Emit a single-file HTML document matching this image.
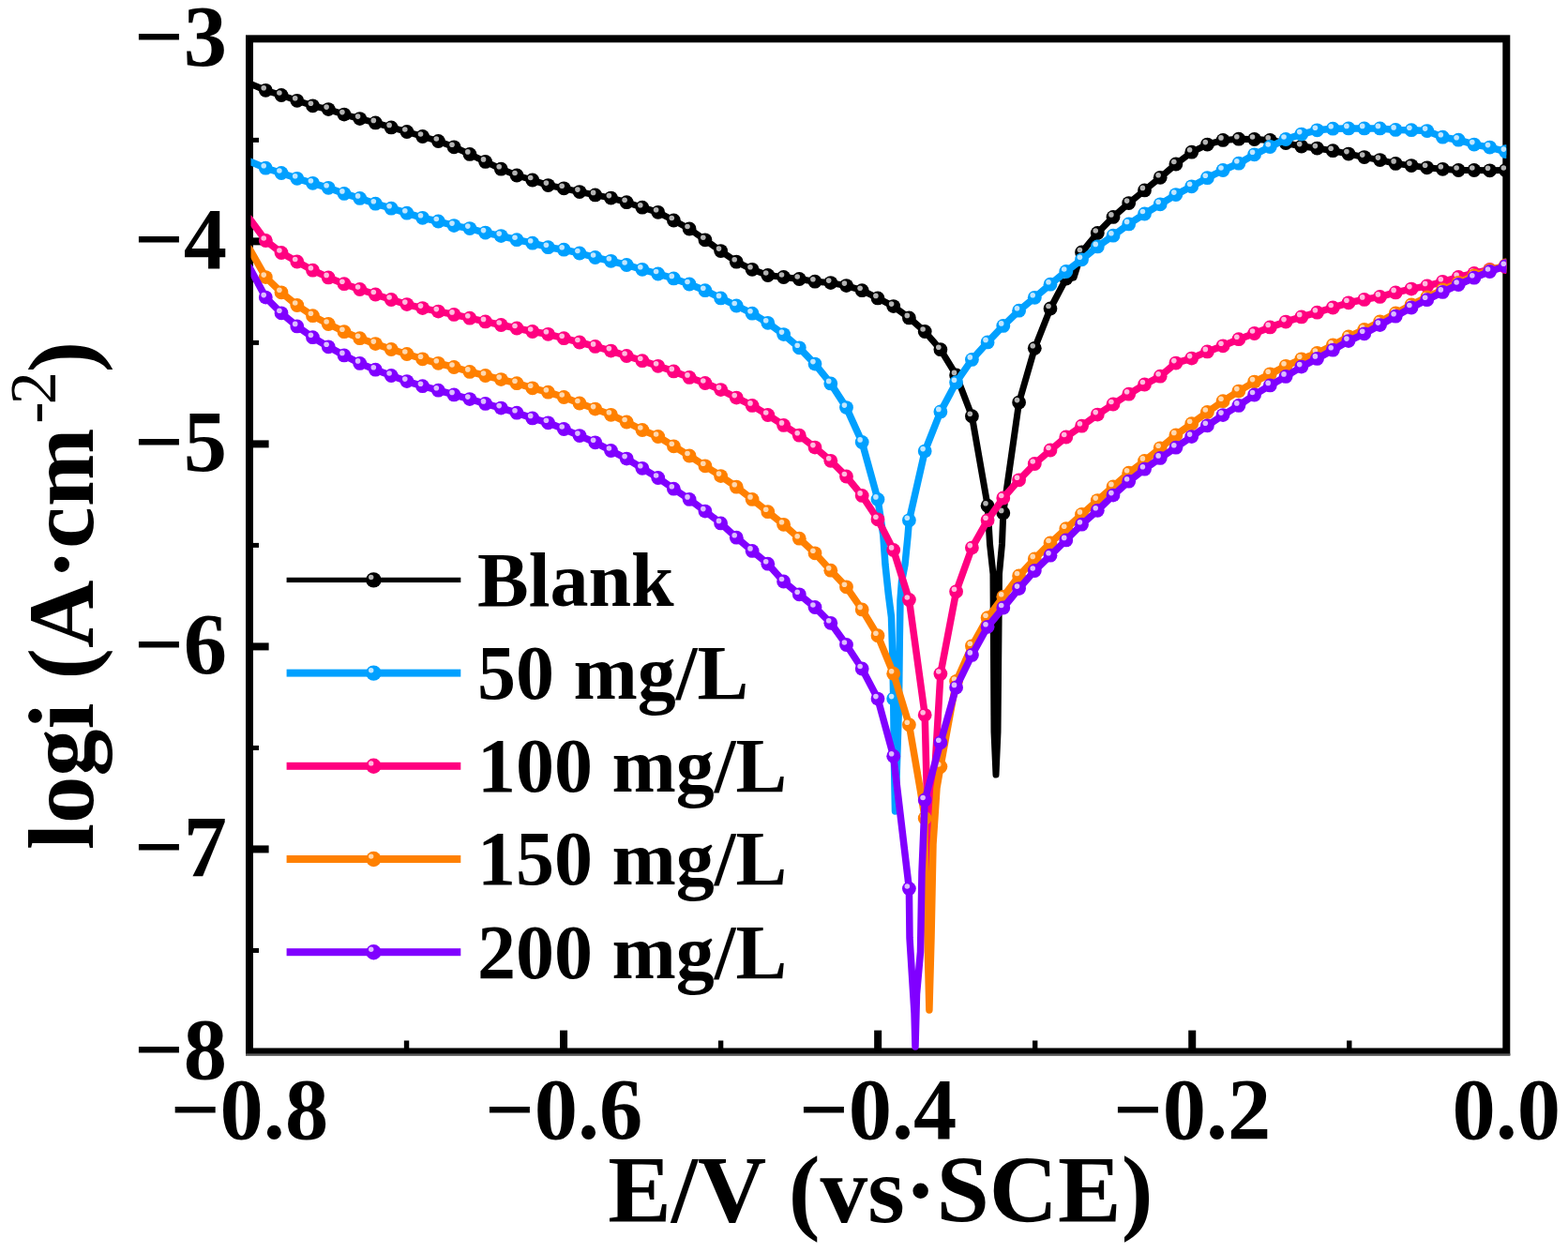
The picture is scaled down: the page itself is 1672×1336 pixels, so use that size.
<!DOCTYPE html><html><head><meta charset="utf-8"><title>Tafel plot</title><style>html,body{margin:0;padding:0;background:#fff;}svg{display:block;}text{font-family:"Liberation Serif","Times New Roman",serif;font-weight:bold;fill:#000;}</style></head><body>
<svg width="1672" height="1336" viewBox="0 0 1672 1336">
<rect x="0" y="0" width="1672" height="1336" fill="#fff"/>
<defs><clipPath id="pc"><rect x="267.5" y="41.35" width="1338.8" height="1080.1000000000001"/></clipPath></defs>
<rect x="266.0" y="41.35" width="1340.30" height="1080.10" fill="none" stroke="#000" stroke-width="8"/>
<rect x="262" y="1123.4" width="1348.3" height="2.2" fill="#5a5a5a"/>
<rect x="266.0" y="146.86" width="10.0" height="5" fill="#000"/>
<rect x="266.0" y="253.37" width="20.6" height="8" fill="#000"/>
<rect x="266.0" y="362.88" width="10.0" height="5" fill="#000"/>
<rect x="266.0" y="469.39" width="20.6" height="8" fill="#000"/>
<rect x="266.0" y="578.90" width="10.0" height="5" fill="#000"/>
<rect x="266.0" y="685.41" width="20.6" height="8" fill="#000"/>
<rect x="266.0" y="794.92" width="10.0" height="5" fill="#000"/>
<rect x="266.0" y="901.43" width="20.6" height="8" fill="#000"/>
<rect x="266.0" y="1010.94" width="10.0" height="5" fill="#000"/>
<rect x="430.84" y="1109.5" width="5.4" height="12.0" fill="#000"/>
<rect x="597.07" y="1098.6" width="8" height="22.9" fill="#000"/>
<rect x="765.91" y="1109.5" width="5.4" height="12.0" fill="#000"/>
<rect x="932.15" y="1098.6" width="8" height="22.9" fill="#000"/>
<rect x="1100.99" y="1109.5" width="5.4" height="12.0" fill="#000"/>
<rect x="1267.23" y="1098.6" width="8" height="22.9" fill="#000"/>
<rect x="1436.06" y="1109.5" width="5.4" height="12.0" fill="#000"/>
<text x="242" y="69.7" font-size="92.5" text-anchor="end">−3</text>
<text x="242" y="285.7" font-size="92.5" text-anchor="end">−4</text>
<text x="242" y="501.7" font-size="92.5" text-anchor="end">−5</text>
<text x="242" y="717.7" font-size="92.5" text-anchor="end">−6</text>
<text x="242" y="933.7" font-size="92.5" text-anchor="end">−7</text>
<text x="242" y="1149.8" font-size="92.5" text-anchor="end">−8</text>
<text x="266.0" y="1214.4" font-size="92.5" text-anchor="middle">−0.8</text>
<text x="601.1" y="1214.4" font-size="92.5" text-anchor="middle">−0.6</text>
<text x="936.1" y="1214.4" font-size="92.5" text-anchor="middle">−0.4</text>
<text x="1271.2" y="1214.4" font-size="92.5" text-anchor="middle">−0.2</text>
<text x="1606.3" y="1214.4" font-size="92.5" text-anchor="middle">0.0</text>
<text x="648.2" y="1302.9" font-size="101.4">E/V (vs·SCE)</text>
<text transform="translate(98.5,906) rotate(-90)" font-size="100.5">logi (A·cm<tspan font-weight="normal" font-size="70" dy="-40" dx="5">-</tspan><tspan font-weight="normal" font-size="70" dx="-3">2</tspan><tspan dy="40" dx="-1">)</tspan></text>
<g clip-path="url(#pc)">
<path d="M266.0,89.0 L283.3,96.3 L300.0,101.5 L316.8,107.3 L333.5,112.8 L350.2,116.6 L367.0,122.1 L383.7,126.6 L400.4,130.9 L417.2,135.9 L433.9,140.5 L450.6,145.5 L467.4,150.5 L484.1,156.8 L500.9,164.4 L517.6,172.4 L534.3,180.2 L551.1,187.0 L567.8,192.0 L584.5,197.6 L601.3,200.8 L618.0,204.6 L634.7,207.9 L651.5,211.1 L668.2,215.7 L684.9,221.2 L701.7,226.3 L718.4,235.0 L735.1,244.0 L751.9,255.8 L768.6,267.6 L785.3,279.2 L802.1,287.3 L818.8,293.5 L835.6,295.5 L852.3,297.5 L869.0,300.2 L885.8,301.6 L902.5,304.6 L919.2,309.7 L936.0,317.9 L952.7,326.6 L969.4,338.9 L986.2,353.5 L1002.9,372.7 L1019.6,399.9 L1036.4,443.7 L1053.1,539.2 L1055.5,580.0 L1059.0,612.0 L1060.0,780.0 L1062.0,826.0 L1064.0,780.0 L1065.5,612.0 L1068.5,580.0 L1069.8,546.9 L1086.6,429.1 L1103.3,371.3 L1120.0,329.0 L1136.8,297.0 L1145.0,296.0 L1153.5,269.0 L1170.3,248.5 L1187.0,231.4 L1203.7,216.6 L1220.5,202.9 L1237.2,189.3 L1253.9,175.0 L1270.7,162.2 L1287.4,154.1 L1304.1,149.4 L1320.9,148.2 L1337.6,148.5 L1354.3,149.4 L1371.1,152.5 L1387.8,156.1 L1404.5,158.1 L1421.3,160.7 L1438.0,164.1 L1454.8,167.6 L1471.5,170.6 L1488.2,174.4 L1505.0,176.6 L1521.7,178.8 L1538.4,180.3 L1555.2,181.5 L1571.9,181.5 L1588.6,181.8 L1605.4,181.5" fill="none" stroke="#000000" stroke-width="7.0" stroke-linejoin="round" stroke-linecap="round"/>
<g fill="#000000"><circle cx="283.3" cy="96.3" r="7.4"/><circle cx="300.0" cy="101.5" r="7.4"/><circle cx="316.8" cy="107.3" r="7.4"/><circle cx="333.5" cy="112.8" r="7.4"/><circle cx="350.2" cy="116.6" r="7.4"/><circle cx="367.0" cy="122.1" r="7.4"/><circle cx="383.7" cy="126.6" r="7.4"/><circle cx="400.4" cy="130.9" r="7.4"/><circle cx="417.2" cy="135.9" r="7.4"/><circle cx="433.9" cy="140.5" r="7.4"/><circle cx="450.6" cy="145.5" r="7.4"/><circle cx="467.4" cy="150.5" r="7.4"/><circle cx="484.1" cy="156.8" r="7.4"/><circle cx="500.9" cy="164.4" r="7.4"/><circle cx="517.6" cy="172.4" r="7.4"/><circle cx="534.3" cy="180.2" r="7.4"/><circle cx="551.1" cy="187.0" r="7.4"/><circle cx="567.8" cy="192.0" r="7.4"/><circle cx="584.5" cy="197.6" r="7.4"/><circle cx="601.3" cy="200.8" r="7.4"/><circle cx="618.0" cy="204.6" r="7.4"/><circle cx="634.7" cy="207.9" r="7.4"/><circle cx="651.5" cy="211.1" r="7.4"/><circle cx="668.2" cy="215.7" r="7.4"/><circle cx="684.9" cy="221.2" r="7.4"/><circle cx="701.7" cy="226.3" r="7.4"/><circle cx="718.4" cy="235.0" r="7.4"/><circle cx="735.1" cy="244.0" r="7.4"/><circle cx="751.9" cy="255.8" r="7.4"/><circle cx="768.6" cy="267.6" r="7.4"/><circle cx="785.3" cy="279.2" r="7.4"/><circle cx="802.1" cy="287.3" r="7.4"/><circle cx="818.8" cy="293.5" r="7.4"/><circle cx="835.6" cy="295.5" r="7.4"/><circle cx="852.3" cy="297.5" r="7.4"/><circle cx="869.0" cy="300.2" r="7.4"/><circle cx="885.8" cy="301.6" r="7.4"/><circle cx="902.5" cy="304.6" r="7.4"/><circle cx="919.2" cy="309.7" r="7.4"/><circle cx="936.0" cy="317.9" r="7.4"/><circle cx="952.7" cy="326.6" r="7.4"/><circle cx="969.4" cy="338.9" r="7.4"/><circle cx="986.2" cy="353.5" r="7.4"/><circle cx="1002.9" cy="372.7" r="7.4"/><circle cx="1019.6" cy="399.9" r="7.4"/><circle cx="1036.4" cy="443.7" r="7.4"/><circle cx="1053.1" cy="539.2" r="7.4"/><circle cx="1069.8" cy="546.9" r="7.4"/><circle cx="1086.6" cy="429.1" r="7.4"/><circle cx="1103.3" cy="371.3" r="7.4"/><circle cx="1120.0" cy="329.0" r="7.4"/><circle cx="1136.8" cy="297.0" r="7.4"/><circle cx="1153.5" cy="269.0" r="7.4"/><circle cx="1170.3" cy="248.5" r="7.4"/><circle cx="1187.0" cy="231.4" r="7.4"/><circle cx="1203.7" cy="216.6" r="7.4"/><circle cx="1220.5" cy="202.9" r="7.4"/><circle cx="1237.2" cy="189.3" r="7.4"/><circle cx="1253.9" cy="175.0" r="7.4"/><circle cx="1270.7" cy="162.2" r="7.4"/><circle cx="1287.4" cy="154.1" r="7.4"/><circle cx="1304.1" cy="149.4" r="7.4"/><circle cx="1320.9" cy="148.2" r="7.4"/><circle cx="1337.6" cy="148.5" r="7.4"/><circle cx="1354.3" cy="149.4" r="7.4"/><circle cx="1371.1" cy="152.5" r="7.4"/><circle cx="1387.8" cy="156.1" r="7.4"/><circle cx="1404.5" cy="158.1" r="7.4"/><circle cx="1421.3" cy="160.7" r="7.4"/><circle cx="1438.0" cy="164.1" r="7.4"/><circle cx="1454.8" cy="167.6" r="7.4"/><circle cx="1471.5" cy="170.6" r="7.4"/><circle cx="1488.2" cy="174.4" r="7.4"/><circle cx="1505.0" cy="176.6" r="7.4"/><circle cx="1521.7" cy="178.8" r="7.4"/><circle cx="1538.4" cy="180.3" r="7.4"/><circle cx="1555.2" cy="181.5" r="7.4"/><circle cx="1571.9" cy="181.5" r="7.4"/><circle cx="1588.6" cy="181.8" r="7.4"/><circle cx="1605.4" cy="181.5" r="7.4"/></g>
<g fill="#b4b4b4"><circle cx="281.2" cy="93.8" r="2.8"/><circle cx="297.9" cy="99.0" r="2.8"/><circle cx="314.7" cy="104.8" r="2.8"/><circle cx="331.4" cy="110.3" r="2.8"/><circle cx="348.1" cy="114.1" r="2.8"/><circle cx="364.9" cy="119.6" r="2.8"/><circle cx="381.6" cy="124.1" r="2.8"/><circle cx="398.3" cy="128.4" r="2.8"/><circle cx="415.1" cy="133.4" r="2.8"/><circle cx="431.8" cy="138.0" r="2.8"/><circle cx="448.5" cy="143.0" r="2.8"/><circle cx="465.3" cy="148.0" r="2.8"/><circle cx="482.0" cy="154.3" r="2.8"/><circle cx="498.8" cy="161.9" r="2.8"/><circle cx="515.5" cy="169.9" r="2.8"/><circle cx="532.2" cy="177.7" r="2.8"/><circle cx="549.0" cy="184.5" r="2.8"/><circle cx="565.7" cy="189.5" r="2.8"/><circle cx="582.4" cy="195.1" r="2.8"/><circle cx="599.2" cy="198.3" r="2.8"/><circle cx="615.9" cy="202.1" r="2.8"/><circle cx="632.6" cy="205.4" r="2.8"/><circle cx="649.4" cy="208.6" r="2.8"/><circle cx="666.1" cy="213.2" r="2.8"/><circle cx="682.8" cy="218.7" r="2.8"/><circle cx="699.6" cy="223.8" r="2.8"/><circle cx="716.3" cy="232.5" r="2.8"/><circle cx="733.0" cy="241.5" r="2.8"/><circle cx="749.8" cy="253.3" r="2.8"/><circle cx="766.5" cy="265.1" r="2.8"/><circle cx="783.2" cy="276.7" r="2.8"/><circle cx="800.0" cy="284.8" r="2.8"/><circle cx="816.7" cy="291.0" r="2.8"/><circle cx="833.5" cy="293.0" r="2.8"/><circle cx="850.2" cy="295.0" r="2.8"/><circle cx="866.9" cy="297.7" r="2.8"/><circle cx="883.7" cy="299.1" r="2.8"/><circle cx="900.4" cy="302.1" r="2.8"/><circle cx="917.1" cy="307.2" r="2.8"/><circle cx="933.9" cy="315.4" r="2.8"/><circle cx="950.6" cy="324.1" r="2.8"/><circle cx="967.3" cy="336.4" r="2.8"/><circle cx="984.1" cy="351.0" r="2.8"/><circle cx="1000.8" cy="370.2" r="2.8"/><circle cx="1017.5" cy="397.4" r="2.8"/><circle cx="1034.3" cy="441.2" r="2.8"/><circle cx="1051.0" cy="536.7" r="2.8"/><circle cx="1067.7" cy="544.4" r="2.8"/><circle cx="1084.5" cy="426.6" r="2.8"/><circle cx="1101.2" cy="368.8" r="2.8"/><circle cx="1118.0" cy="326.5" r="2.8"/><circle cx="1134.7" cy="294.5" r="2.8"/><circle cx="1151.4" cy="266.5" r="2.8"/><circle cx="1168.2" cy="246.0" r="2.8"/><circle cx="1184.9" cy="228.9" r="2.8"/><circle cx="1201.6" cy="214.1" r="2.8"/><circle cx="1218.4" cy="200.4" r="2.8"/><circle cx="1235.1" cy="186.8" r="2.8"/><circle cx="1251.8" cy="172.5" r="2.8"/><circle cx="1268.6" cy="159.7" r="2.8"/><circle cx="1285.3" cy="151.6" r="2.8"/><circle cx="1302.0" cy="146.9" r="2.8"/><circle cx="1318.8" cy="145.7" r="2.8"/><circle cx="1335.5" cy="146.0" r="2.8"/><circle cx="1352.2" cy="146.9" r="2.8"/><circle cx="1369.0" cy="150.0" r="2.8"/><circle cx="1385.7" cy="153.6" r="2.8"/><circle cx="1402.4" cy="155.6" r="2.8"/><circle cx="1419.2" cy="158.2" r="2.8"/><circle cx="1435.9" cy="161.6" r="2.8"/><circle cx="1452.7" cy="165.1" r="2.8"/><circle cx="1469.4" cy="168.1" r="2.8"/><circle cx="1486.1" cy="171.9" r="2.8"/><circle cx="1502.9" cy="174.1" r="2.8"/><circle cx="1519.6" cy="176.3" r="2.8"/><circle cx="1536.3" cy="177.8" r="2.8"/><circle cx="1553.1" cy="179.0" r="2.8"/><circle cx="1569.8" cy="179.0" r="2.8"/><circle cx="1586.5" cy="179.3" r="2.8"/><circle cx="1603.3" cy="179.0" r="2.8"/></g>
<path d="M266.0,172.0 L283.3,179.2 L300.0,184.5 L316.8,190.3 L333.5,195.3 L350.2,200.3 L367.0,206.4 L383.7,211.4 L400.4,217.2 L417.2,222.2 L433.9,227.2 L450.6,232.3 L467.4,236.0 L484.1,240.6 L500.9,243.6 L517.6,248.1 L534.3,251.6 L551.1,255.7 L567.8,259.2 L584.5,263.7 L601.3,266.2 L618.0,270.0 L634.7,274.5 L651.5,278.3 L668.2,282.5 L684.9,287.3 L701.7,292.0 L718.4,296.9 L735.1,303.0 L751.9,309.7 L768.6,317.9 L785.3,326.0 L802.1,334.2 L818.8,344.3 L835.6,356.6 L852.3,370.8 L869.0,388.1 L885.8,408.9 L902.5,434.6 L919.2,471.4 L936.0,532.4 L941.8,570.5 L944.0,602.0 L947.3,633.0 L950.5,658.0 L951.8,700.0 L952.7,745.1 L953.5,815.0 L954.5,865.0 L956.0,830.0 L958.5,750.0 L959.3,680.0 L960.0,640.0 L961.5,620.0 L965.0,602.0 L968.0,572.0 L969.4,554.8 L986.2,481.1 L1002.9,438.9 L1019.6,407.7 L1036.4,383.4 L1053.1,364.9 L1069.8,347.4 L1086.6,331.2 L1103.3,317.3 L1120.0,303.2 L1136.8,289.5 L1153.5,276.8 L1170.3,262.9 L1187.0,251.2 L1203.7,238.9 L1220.5,228.0 L1237.2,217.8 L1253.9,207.6 L1270.7,198.8 L1287.4,189.7 L1304.1,181.5 L1320.9,174.2 L1337.6,164.8 L1354.3,156.5 L1371.1,148.5 L1387.8,143.1 L1404.5,138.8 L1421.3,137.2 L1438.0,136.9 L1454.8,136.9 L1471.5,136.9 L1488.2,138.4 L1505.0,138.7 L1521.7,139.6 L1538.4,146.2 L1555.2,149.2 L1571.9,154.1 L1588.6,157.1 L1605.4,161.6" fill="none" stroke="#00A0FF" stroke-width="7.5" stroke-linejoin="round" stroke-linecap="round"/>
<g fill="#00A0FF"><circle cx="283.3" cy="179.2" r="7.4"/><circle cx="300.0" cy="184.5" r="7.4"/><circle cx="316.8" cy="190.3" r="7.4"/><circle cx="333.5" cy="195.3" r="7.4"/><circle cx="350.2" cy="200.3" r="7.4"/><circle cx="367.0" cy="206.4" r="7.4"/><circle cx="383.7" cy="211.4" r="7.4"/><circle cx="400.4" cy="217.2" r="7.4"/><circle cx="417.2" cy="222.2" r="7.4"/><circle cx="433.9" cy="227.2" r="7.4"/><circle cx="450.6" cy="232.3" r="7.4"/><circle cx="467.4" cy="236.0" r="7.4"/><circle cx="484.1" cy="240.6" r="7.4"/><circle cx="500.9" cy="243.6" r="7.4"/><circle cx="517.6" cy="248.1" r="7.4"/><circle cx="534.3" cy="251.6" r="7.4"/><circle cx="551.1" cy="255.7" r="7.4"/><circle cx="567.8" cy="259.2" r="7.4"/><circle cx="584.5" cy="263.7" r="7.4"/><circle cx="601.3" cy="266.2" r="7.4"/><circle cx="618.0" cy="270.0" r="7.4"/><circle cx="634.7" cy="274.5" r="7.4"/><circle cx="651.5" cy="278.3" r="7.4"/><circle cx="668.2" cy="282.5" r="7.4"/><circle cx="684.9" cy="287.3" r="7.4"/><circle cx="701.7" cy="292.0" r="7.4"/><circle cx="718.4" cy="296.9" r="7.4"/><circle cx="735.1" cy="303.0" r="7.4"/><circle cx="751.9" cy="309.7" r="7.4"/><circle cx="768.6" cy="317.9" r="7.4"/><circle cx="785.3" cy="326.0" r="7.4"/><circle cx="802.1" cy="334.2" r="7.4"/><circle cx="818.8" cy="344.3" r="7.4"/><circle cx="835.6" cy="356.6" r="7.4"/><circle cx="852.3" cy="370.8" r="7.4"/><circle cx="869.0" cy="388.1" r="7.4"/><circle cx="885.8" cy="408.9" r="7.4"/><circle cx="902.5" cy="434.6" r="7.4"/><circle cx="919.2" cy="471.4" r="7.4"/><circle cx="936.0" cy="532.4" r="7.4"/><circle cx="952.7" cy="745.1" r="7.4"/><circle cx="969.4" cy="554.8" r="7.4"/><circle cx="986.2" cy="481.1" r="7.4"/><circle cx="1002.9" cy="438.9" r="7.4"/><circle cx="1019.6" cy="407.7" r="7.4"/><circle cx="1036.4" cy="383.4" r="7.4"/><circle cx="1053.1" cy="364.9" r="7.4"/><circle cx="1069.8" cy="347.4" r="7.4"/><circle cx="1086.6" cy="331.2" r="7.4"/><circle cx="1103.3" cy="317.3" r="7.4"/><circle cx="1120.0" cy="303.2" r="7.4"/><circle cx="1136.8" cy="289.5" r="7.4"/><circle cx="1153.5" cy="276.8" r="7.4"/><circle cx="1170.3" cy="262.9" r="7.4"/><circle cx="1187.0" cy="251.2" r="7.4"/><circle cx="1203.7" cy="238.9" r="7.4"/><circle cx="1220.5" cy="228.0" r="7.4"/><circle cx="1237.2" cy="217.8" r="7.4"/><circle cx="1253.9" cy="207.6" r="7.4"/><circle cx="1270.7" cy="198.8" r="7.4"/><circle cx="1287.4" cy="189.7" r="7.4"/><circle cx="1304.1" cy="181.5" r="7.4"/><circle cx="1320.9" cy="174.2" r="7.4"/><circle cx="1337.6" cy="164.8" r="7.4"/><circle cx="1354.3" cy="156.5" r="7.4"/><circle cx="1371.1" cy="148.5" r="7.4"/><circle cx="1387.8" cy="143.1" r="7.4"/><circle cx="1404.5" cy="138.8" r="7.4"/><circle cx="1421.3" cy="137.2" r="7.4"/><circle cx="1438.0" cy="136.9" r="7.4"/><circle cx="1454.8" cy="136.9" r="7.4"/><circle cx="1471.5" cy="136.9" r="7.4"/><circle cx="1488.2" cy="138.4" r="7.4"/><circle cx="1505.0" cy="138.7" r="7.4"/><circle cx="1521.7" cy="139.6" r="7.4"/><circle cx="1538.4" cy="146.2" r="7.4"/><circle cx="1555.2" cy="149.2" r="7.4"/><circle cx="1571.9" cy="154.1" r="7.4"/><circle cx="1588.6" cy="157.1" r="7.4"/><circle cx="1605.4" cy="161.6" r="7.4"/></g>
<g fill="#c0e6ff"><circle cx="281.2" cy="176.7" r="2.8"/><circle cx="297.9" cy="182.0" r="2.8"/><circle cx="314.7" cy="187.8" r="2.8"/><circle cx="331.4" cy="192.8" r="2.8"/><circle cx="348.1" cy="197.8" r="2.8"/><circle cx="364.9" cy="203.9" r="2.8"/><circle cx="381.6" cy="208.9" r="2.8"/><circle cx="398.3" cy="214.7" r="2.8"/><circle cx="415.1" cy="219.7" r="2.8"/><circle cx="431.8" cy="224.7" r="2.8"/><circle cx="448.5" cy="229.8" r="2.8"/><circle cx="465.3" cy="233.5" r="2.8"/><circle cx="482.0" cy="238.1" r="2.8"/><circle cx="498.8" cy="241.1" r="2.8"/><circle cx="515.5" cy="245.6" r="2.8"/><circle cx="532.2" cy="249.1" r="2.8"/><circle cx="549.0" cy="253.2" r="2.8"/><circle cx="565.7" cy="256.7" r="2.8"/><circle cx="582.4" cy="261.2" r="2.8"/><circle cx="599.2" cy="263.7" r="2.8"/><circle cx="615.9" cy="267.5" r="2.8"/><circle cx="632.6" cy="272.0" r="2.8"/><circle cx="649.4" cy="275.8" r="2.8"/><circle cx="666.1" cy="280.0" r="2.8"/><circle cx="682.8" cy="284.8" r="2.8"/><circle cx="699.6" cy="289.5" r="2.8"/><circle cx="716.3" cy="294.4" r="2.8"/><circle cx="733.0" cy="300.5" r="2.8"/><circle cx="749.8" cy="307.2" r="2.8"/><circle cx="766.5" cy="315.4" r="2.8"/><circle cx="783.2" cy="323.5" r="2.8"/><circle cx="800.0" cy="331.7" r="2.8"/><circle cx="816.7" cy="341.8" r="2.8"/><circle cx="833.5" cy="354.1" r="2.8"/><circle cx="850.2" cy="368.3" r="2.8"/><circle cx="866.9" cy="385.6" r="2.8"/><circle cx="883.7" cy="406.4" r="2.8"/><circle cx="900.4" cy="432.1" r="2.8"/><circle cx="917.1" cy="468.9" r="2.8"/><circle cx="933.9" cy="529.9" r="2.8"/><circle cx="950.6" cy="742.6" r="2.8"/><circle cx="967.3" cy="552.3" r="2.8"/><circle cx="984.1" cy="478.6" r="2.8"/><circle cx="1000.8" cy="436.4" r="2.8"/><circle cx="1017.5" cy="405.2" r="2.8"/><circle cx="1034.3" cy="380.9" r="2.8"/><circle cx="1051.0" cy="362.4" r="2.8"/><circle cx="1067.7" cy="344.9" r="2.8"/><circle cx="1084.5" cy="328.7" r="2.8"/><circle cx="1101.2" cy="314.8" r="2.8"/><circle cx="1118.0" cy="300.7" r="2.8"/><circle cx="1134.7" cy="287.0" r="2.8"/><circle cx="1151.4" cy="274.3" r="2.8"/><circle cx="1168.2" cy="260.4" r="2.8"/><circle cx="1184.9" cy="248.7" r="2.8"/><circle cx="1201.6" cy="236.4" r="2.8"/><circle cx="1218.4" cy="225.5" r="2.8"/><circle cx="1235.1" cy="215.3" r="2.8"/><circle cx="1251.8" cy="205.1" r="2.8"/><circle cx="1268.6" cy="196.3" r="2.8"/><circle cx="1285.3" cy="187.2" r="2.8"/><circle cx="1302.0" cy="179.0" r="2.8"/><circle cx="1318.8" cy="171.7" r="2.8"/><circle cx="1335.5" cy="162.3" r="2.8"/><circle cx="1352.2" cy="154.0" r="2.8"/><circle cx="1369.0" cy="146.0" r="2.8"/><circle cx="1385.7" cy="140.6" r="2.8"/><circle cx="1402.4" cy="136.3" r="2.8"/><circle cx="1419.2" cy="134.7" r="2.8"/><circle cx="1435.9" cy="134.4" r="2.8"/><circle cx="1452.7" cy="134.4" r="2.8"/><circle cx="1469.4" cy="134.4" r="2.8"/><circle cx="1486.1" cy="135.9" r="2.8"/><circle cx="1502.9" cy="136.2" r="2.8"/><circle cx="1519.6" cy="137.1" r="2.8"/><circle cx="1536.3" cy="143.7" r="2.8"/><circle cx="1553.1" cy="146.7" r="2.8"/><circle cx="1569.8" cy="151.6" r="2.8"/><circle cx="1586.5" cy="154.6" r="2.8"/><circle cx="1603.3" cy="159.1" r="2.8"/></g>
<path d="M266.0,233.0 L283.3,256.5 L300.0,269.5 L316.8,279.0 L333.5,288.2 L350.2,295.9 L367.0,302.7 L383.7,308.5 L400.4,314.0 L417.2,319.5 L433.9,324.6 L450.6,328.6 L467.4,332.1 L484.1,335.4 L500.9,339.2 L517.6,342.9 L534.3,346.5 L551.1,350.0 L567.8,353.5 L584.5,356.3 L601.3,360.7 L618.0,365.0 L634.7,369.4 L651.5,374.1 L668.2,379.5 L684.9,384.7 L701.7,390.3 L718.4,395.9 L735.1,402.4 L751.9,408.5 L768.6,415.6 L785.3,424.1 L802.1,432.4 L818.8,442.5 L835.6,453.4 L852.3,464.2 L869.0,477.1 L885.8,491.3 L902.5,508.0 L919.2,528.4 L936.0,553.8 L952.7,586.4 L969.4,639.5 L986.2,762.3 L990.5,930.0 L1002.9,718.5 L1019.6,630.8 L1036.4,584.1 L1053.1,554.7 L1069.8,531.0 L1086.6,511.8 L1103.3,494.5 L1120.0,480.0 L1136.8,466.0 L1153.5,454.2 L1170.3,442.1 L1187.0,431.0 L1203.7,420.2 L1220.5,410.0 L1237.2,401.2 L1253.9,387.1 L1270.7,382.1 L1287.4,374.9 L1304.1,368.8 L1320.9,361.7 L1337.6,355.5 L1354.3,348.9 L1371.1,343.1 L1387.8,337.9 L1404.5,333.2 L1421.3,328.0 L1438.0,322.8 L1454.8,319.4 L1471.5,316.4 L1488.2,311.9 L1505.0,308.1 L1521.7,304.9 L1538.4,300.3 L1555.2,295.5 L1571.9,291.5 L1588.6,287.5 L1605.4,284.5" fill="none" stroke="#FF0080" stroke-width="7.5" stroke-linejoin="round" stroke-linecap="round"/>
<g fill="#FF0080"><circle cx="283.3" cy="256.5" r="7.4"/><circle cx="300.0" cy="269.5" r="7.4"/><circle cx="316.8" cy="279.0" r="7.4"/><circle cx="333.5" cy="288.2" r="7.4"/><circle cx="350.2" cy="295.9" r="7.4"/><circle cx="367.0" cy="302.7" r="7.4"/><circle cx="383.7" cy="308.5" r="7.4"/><circle cx="400.4" cy="314.0" r="7.4"/><circle cx="417.2" cy="319.5" r="7.4"/><circle cx="433.9" cy="324.6" r="7.4"/><circle cx="450.6" cy="328.6" r="7.4"/><circle cx="467.4" cy="332.1" r="7.4"/><circle cx="484.1" cy="335.4" r="7.4"/><circle cx="500.9" cy="339.2" r="7.4"/><circle cx="517.6" cy="342.9" r="7.4"/><circle cx="534.3" cy="346.5" r="7.4"/><circle cx="551.1" cy="350.0" r="7.4"/><circle cx="567.8" cy="353.5" r="7.4"/><circle cx="584.5" cy="356.3" r="7.4"/><circle cx="601.3" cy="360.7" r="7.4"/><circle cx="618.0" cy="365.0" r="7.4"/><circle cx="634.7" cy="369.4" r="7.4"/><circle cx="651.5" cy="374.1" r="7.4"/><circle cx="668.2" cy="379.5" r="7.4"/><circle cx="684.9" cy="384.7" r="7.4"/><circle cx="701.7" cy="390.3" r="7.4"/><circle cx="718.4" cy="395.9" r="7.4"/><circle cx="735.1" cy="402.4" r="7.4"/><circle cx="751.9" cy="408.5" r="7.4"/><circle cx="768.6" cy="415.6" r="7.4"/><circle cx="785.3" cy="424.1" r="7.4"/><circle cx="802.1" cy="432.4" r="7.4"/><circle cx="818.8" cy="442.5" r="7.4"/><circle cx="835.6" cy="453.4" r="7.4"/><circle cx="852.3" cy="464.2" r="7.4"/><circle cx="869.0" cy="477.1" r="7.4"/><circle cx="885.8" cy="491.3" r="7.4"/><circle cx="902.5" cy="508.0" r="7.4"/><circle cx="919.2" cy="528.4" r="7.4"/><circle cx="936.0" cy="553.8" r="7.4"/><circle cx="952.7" cy="586.4" r="7.4"/><circle cx="969.4" cy="639.5" r="7.4"/><circle cx="986.2" cy="762.3" r="7.4"/><circle cx="1002.9" cy="718.5" r="7.4"/><circle cx="1019.6" cy="630.8" r="7.4"/><circle cx="1036.4" cy="584.1" r="7.4"/><circle cx="1053.1" cy="554.7" r="7.4"/><circle cx="1069.8" cy="531.0" r="7.4"/><circle cx="1086.6" cy="511.8" r="7.4"/><circle cx="1103.3" cy="494.5" r="7.4"/><circle cx="1120.0" cy="480.0" r="7.4"/><circle cx="1136.8" cy="466.0" r="7.4"/><circle cx="1153.5" cy="454.2" r="7.4"/><circle cx="1170.3" cy="442.1" r="7.4"/><circle cx="1187.0" cy="431.0" r="7.4"/><circle cx="1203.7" cy="420.2" r="7.4"/><circle cx="1220.5" cy="410.0" r="7.4"/><circle cx="1237.2" cy="401.2" r="7.4"/><circle cx="1253.9" cy="387.1" r="7.4"/><circle cx="1270.7" cy="382.1" r="7.4"/><circle cx="1287.4" cy="374.9" r="7.4"/><circle cx="1304.1" cy="368.8" r="7.4"/><circle cx="1320.9" cy="361.7" r="7.4"/><circle cx="1337.6" cy="355.5" r="7.4"/><circle cx="1354.3" cy="348.9" r="7.4"/><circle cx="1371.1" cy="343.1" r="7.4"/><circle cx="1387.8" cy="337.9" r="7.4"/><circle cx="1404.5" cy="333.2" r="7.4"/><circle cx="1421.3" cy="328.0" r="7.4"/><circle cx="1438.0" cy="322.8" r="7.4"/><circle cx="1454.8" cy="319.4" r="7.4"/><circle cx="1471.5" cy="316.4" r="7.4"/><circle cx="1488.2" cy="311.9" r="7.4"/><circle cx="1505.0" cy="308.1" r="7.4"/><circle cx="1521.7" cy="304.9" r="7.4"/><circle cx="1538.4" cy="300.3" r="7.4"/><circle cx="1555.2" cy="295.5" r="7.4"/><circle cx="1571.9" cy="291.5" r="7.4"/><circle cx="1588.6" cy="287.5" r="7.4"/><circle cx="1605.4" cy="284.5" r="7.4"/></g>
<g fill="#ffbade"><circle cx="281.2" cy="254.0" r="2.8"/><circle cx="297.9" cy="267.0" r="2.8"/><circle cx="314.7" cy="276.5" r="2.8"/><circle cx="331.4" cy="285.7" r="2.8"/><circle cx="348.1" cy="293.4" r="2.8"/><circle cx="364.9" cy="300.2" r="2.8"/><circle cx="381.6" cy="306.0" r="2.8"/><circle cx="398.3" cy="311.5" r="2.8"/><circle cx="415.1" cy="317.0" r="2.8"/><circle cx="431.8" cy="322.1" r="2.8"/><circle cx="448.5" cy="326.1" r="2.8"/><circle cx="465.3" cy="329.6" r="2.8"/><circle cx="482.0" cy="332.9" r="2.8"/><circle cx="498.8" cy="336.7" r="2.8"/><circle cx="515.5" cy="340.4" r="2.8"/><circle cx="532.2" cy="344.0" r="2.8"/><circle cx="549.0" cy="347.5" r="2.8"/><circle cx="565.7" cy="351.0" r="2.8"/><circle cx="582.4" cy="353.8" r="2.8"/><circle cx="599.2" cy="358.2" r="2.8"/><circle cx="615.9" cy="362.5" r="2.8"/><circle cx="632.6" cy="366.9" r="2.8"/><circle cx="649.4" cy="371.6" r="2.8"/><circle cx="666.1" cy="377.0" r="2.8"/><circle cx="682.8" cy="382.2" r="2.8"/><circle cx="699.6" cy="387.8" r="2.8"/><circle cx="716.3" cy="393.4" r="2.8"/><circle cx="733.0" cy="399.9" r="2.8"/><circle cx="749.8" cy="406.0" r="2.8"/><circle cx="766.5" cy="413.1" r="2.8"/><circle cx="783.2" cy="421.6" r="2.8"/><circle cx="800.0" cy="429.9" r="2.8"/><circle cx="816.7" cy="440.0" r="2.8"/><circle cx="833.5" cy="450.9" r="2.8"/><circle cx="850.2" cy="461.7" r="2.8"/><circle cx="866.9" cy="474.6" r="2.8"/><circle cx="883.7" cy="488.8" r="2.8"/><circle cx="900.4" cy="505.5" r="2.8"/><circle cx="917.1" cy="525.9" r="2.8"/><circle cx="933.9" cy="551.3" r="2.8"/><circle cx="950.6" cy="583.9" r="2.8"/><circle cx="967.3" cy="637.0" r="2.8"/><circle cx="984.1" cy="759.8" r="2.8"/><circle cx="1000.8" cy="716.0" r="2.8"/><circle cx="1017.5" cy="628.3" r="2.8"/><circle cx="1034.3" cy="581.6" r="2.8"/><circle cx="1051.0" cy="552.2" r="2.8"/><circle cx="1067.7" cy="528.5" r="2.8"/><circle cx="1084.5" cy="509.3" r="2.8"/><circle cx="1101.2" cy="492.0" r="2.8"/><circle cx="1118.0" cy="477.5" r="2.8"/><circle cx="1134.7" cy="463.5" r="2.8"/><circle cx="1151.4" cy="451.7" r="2.8"/><circle cx="1168.2" cy="439.6" r="2.8"/><circle cx="1184.9" cy="428.5" r="2.8"/><circle cx="1201.6" cy="417.7" r="2.8"/><circle cx="1218.4" cy="407.5" r="2.8"/><circle cx="1235.1" cy="398.7" r="2.8"/><circle cx="1251.8" cy="384.6" r="2.8"/><circle cx="1268.6" cy="379.6" r="2.8"/><circle cx="1285.3" cy="372.4" r="2.8"/><circle cx="1302.0" cy="366.3" r="2.8"/><circle cx="1318.8" cy="359.2" r="2.8"/><circle cx="1335.5" cy="353.0" r="2.8"/><circle cx="1352.2" cy="346.4" r="2.8"/><circle cx="1369.0" cy="340.6" r="2.8"/><circle cx="1385.7" cy="335.4" r="2.8"/><circle cx="1402.4" cy="330.7" r="2.8"/><circle cx="1419.2" cy="325.5" r="2.8"/><circle cx="1435.9" cy="320.3" r="2.8"/><circle cx="1452.7" cy="316.9" r="2.8"/><circle cx="1469.4" cy="313.9" r="2.8"/><circle cx="1486.1" cy="309.4" r="2.8"/><circle cx="1502.9" cy="305.6" r="2.8"/><circle cx="1519.6" cy="302.4" r="2.8"/><circle cx="1536.3" cy="297.8" r="2.8"/><circle cx="1553.1" cy="293.0" r="2.8"/><circle cx="1569.8" cy="289.0" r="2.8"/><circle cx="1586.5" cy="285.0" r="2.8"/><circle cx="1603.3" cy="282.0" r="2.8"/></g>
<path d="M266.0,265.0 L283.3,295.6 L300.0,311.8 L316.8,325.5 L333.5,336.7 L350.2,345.5 L367.0,353.7 L383.7,360.7 L400.4,366.6 L417.2,372.5 L433.9,377.5 L450.6,382.8 L467.4,387.3 L484.1,391.5 L500.9,396.4 L517.6,400.5 L534.3,404.6 L551.1,408.7 L567.8,413.8 L584.5,418.2 L601.3,423.5 L618.0,430.0 L634.7,436.1 L651.5,442.3 L668.2,450.0 L684.9,458.5 L701.7,465.5 L718.4,475.8 L735.1,486.0 L751.9,496.8 L768.6,507.6 L785.3,519.2 L802.1,532.4 L818.8,545.7 L835.6,559.3 L852.3,574.2 L869.0,589.8 L885.8,608.2 L902.5,625.8 L919.2,649.9 L936.0,677.7 L952.7,718.2 L969.4,772.7 L981.3,842.0 L986.2,872.5 L986.0,900.0 L989.0,1000.0 L990.9,1077.0 L993.0,1000.0 L995.0,900.0 L999.0,840.0 L1002.9,817.5 L1019.6,726.5 L1036.4,688.8 L1053.1,658.7 L1069.8,636.3 L1086.6,614.0 L1103.3,595.9 L1120.0,579.0 L1136.8,563.7 L1153.5,548.4 L1170.3,533.6 L1187.0,518.9 L1203.7,504.2 L1220.5,491.4 L1237.2,477.8 L1253.9,463.9 L1270.7,451.7 L1287.4,439.5 L1304.1,427.7 L1320.9,417.1 L1337.6,407.1 L1354.3,398.8 L1371.1,390.3 L1387.8,382.8 L1404.5,376.5 L1421.3,368.0 L1438.0,359.0 L1454.8,351.5 L1471.5,343.0 L1488.2,334.0 L1505.0,325.0 L1521.7,317.0 L1538.4,309.0 L1555.2,301.5 L1571.9,294.0 L1588.6,288.0 L1605.4,283.0" fill="none" stroke="#FF8000" stroke-width="7.5" stroke-linejoin="round" stroke-linecap="round"/>
<g fill="#FF8000"><circle cx="283.3" cy="295.6" r="7.4"/><circle cx="300.0" cy="311.8" r="7.4"/><circle cx="316.8" cy="325.5" r="7.4"/><circle cx="333.5" cy="336.7" r="7.4"/><circle cx="350.2" cy="345.5" r="7.4"/><circle cx="367.0" cy="353.7" r="7.4"/><circle cx="383.7" cy="360.7" r="7.4"/><circle cx="400.4" cy="366.6" r="7.4"/><circle cx="417.2" cy="372.5" r="7.4"/><circle cx="433.9" cy="377.5" r="7.4"/><circle cx="450.6" cy="382.8" r="7.4"/><circle cx="467.4" cy="387.3" r="7.4"/><circle cx="484.1" cy="391.5" r="7.4"/><circle cx="500.9" cy="396.4" r="7.4"/><circle cx="517.6" cy="400.5" r="7.4"/><circle cx="534.3" cy="404.6" r="7.4"/><circle cx="551.1" cy="408.7" r="7.4"/><circle cx="567.8" cy="413.8" r="7.4"/><circle cx="584.5" cy="418.2" r="7.4"/><circle cx="601.3" cy="423.5" r="7.4"/><circle cx="618.0" cy="430.0" r="7.4"/><circle cx="634.7" cy="436.1" r="7.4"/><circle cx="651.5" cy="442.3" r="7.4"/><circle cx="668.2" cy="450.0" r="7.4"/><circle cx="684.9" cy="458.5" r="7.4"/><circle cx="701.7" cy="465.5" r="7.4"/><circle cx="718.4" cy="475.8" r="7.4"/><circle cx="735.1" cy="486.0" r="7.4"/><circle cx="751.9" cy="496.8" r="7.4"/><circle cx="768.6" cy="507.6" r="7.4"/><circle cx="785.3" cy="519.2" r="7.4"/><circle cx="802.1" cy="532.4" r="7.4"/><circle cx="818.8" cy="545.7" r="7.4"/><circle cx="835.6" cy="559.3" r="7.4"/><circle cx="852.3" cy="574.2" r="7.4"/><circle cx="869.0" cy="589.8" r="7.4"/><circle cx="885.8" cy="608.2" r="7.4"/><circle cx="902.5" cy="625.8" r="7.4"/><circle cx="919.2" cy="649.9" r="7.4"/><circle cx="936.0" cy="677.7" r="7.4"/><circle cx="952.7" cy="718.2" r="7.4"/><circle cx="969.4" cy="772.7" r="7.4"/><circle cx="986.2" cy="872.5" r="7.4"/><circle cx="1002.9" cy="817.5" r="7.4"/><circle cx="1019.6" cy="726.5" r="7.4"/><circle cx="1036.4" cy="688.8" r="7.4"/><circle cx="1053.1" cy="658.7" r="7.4"/><circle cx="1069.8" cy="636.3" r="7.4"/><circle cx="1086.6" cy="614.0" r="7.4"/><circle cx="1103.3" cy="595.9" r="7.4"/><circle cx="1120.0" cy="579.0" r="7.4"/><circle cx="1136.8" cy="563.7" r="7.4"/><circle cx="1153.5" cy="548.4" r="7.4"/><circle cx="1170.3" cy="533.6" r="7.4"/><circle cx="1187.0" cy="518.9" r="7.4"/><circle cx="1203.7" cy="504.2" r="7.4"/><circle cx="1220.5" cy="491.4" r="7.4"/><circle cx="1237.2" cy="477.8" r="7.4"/><circle cx="1253.9" cy="463.9" r="7.4"/><circle cx="1270.7" cy="451.7" r="7.4"/><circle cx="1287.4" cy="439.5" r="7.4"/><circle cx="1304.1" cy="427.7" r="7.4"/><circle cx="1320.9" cy="417.1" r="7.4"/><circle cx="1337.6" cy="407.1" r="7.4"/><circle cx="1354.3" cy="398.8" r="7.4"/><circle cx="1371.1" cy="390.3" r="7.4"/><circle cx="1387.8" cy="382.8" r="7.4"/><circle cx="1404.5" cy="376.5" r="7.4"/><circle cx="1421.3" cy="368.0" r="7.4"/><circle cx="1438.0" cy="359.0" r="7.4"/><circle cx="1454.8" cy="351.5" r="7.4"/><circle cx="1471.5" cy="343.0" r="7.4"/><circle cx="1488.2" cy="334.0" r="7.4"/><circle cx="1505.0" cy="325.0" r="7.4"/><circle cx="1521.7" cy="317.0" r="7.4"/><circle cx="1538.4" cy="309.0" r="7.4"/><circle cx="1555.2" cy="301.5" r="7.4"/><circle cx="1571.9" cy="294.0" r="7.4"/><circle cx="1588.6" cy="288.0" r="7.4"/><circle cx="1605.4" cy="283.0" r="7.4"/></g>
<g fill="#ffd8b0"><circle cx="281.2" cy="293.1" r="2.8"/><circle cx="297.9" cy="309.3" r="2.8"/><circle cx="314.7" cy="323.0" r="2.8"/><circle cx="331.4" cy="334.2" r="2.8"/><circle cx="348.1" cy="343.0" r="2.8"/><circle cx="364.9" cy="351.2" r="2.8"/><circle cx="381.6" cy="358.2" r="2.8"/><circle cx="398.3" cy="364.1" r="2.8"/><circle cx="415.1" cy="370.0" r="2.8"/><circle cx="431.8" cy="375.0" r="2.8"/><circle cx="448.5" cy="380.3" r="2.8"/><circle cx="465.3" cy="384.8" r="2.8"/><circle cx="482.0" cy="389.0" r="2.8"/><circle cx="498.8" cy="393.9" r="2.8"/><circle cx="515.5" cy="398.0" r="2.8"/><circle cx="532.2" cy="402.1" r="2.8"/><circle cx="549.0" cy="406.2" r="2.8"/><circle cx="565.7" cy="411.3" r="2.8"/><circle cx="582.4" cy="415.7" r="2.8"/><circle cx="599.2" cy="421.0" r="2.8"/><circle cx="615.9" cy="427.5" r="2.8"/><circle cx="632.6" cy="433.6" r="2.8"/><circle cx="649.4" cy="439.8" r="2.8"/><circle cx="666.1" cy="447.5" r="2.8"/><circle cx="682.8" cy="456.0" r="2.8"/><circle cx="699.6" cy="463.0" r="2.8"/><circle cx="716.3" cy="473.3" r="2.8"/><circle cx="733.0" cy="483.5" r="2.8"/><circle cx="749.8" cy="494.3" r="2.8"/><circle cx="766.5" cy="505.1" r="2.8"/><circle cx="783.2" cy="516.7" r="2.8"/><circle cx="800.0" cy="529.9" r="2.8"/><circle cx="816.7" cy="543.2" r="2.8"/><circle cx="833.5" cy="556.8" r="2.8"/><circle cx="850.2" cy="571.7" r="2.8"/><circle cx="866.9" cy="587.3" r="2.8"/><circle cx="883.7" cy="605.7" r="2.8"/><circle cx="900.4" cy="623.3" r="2.8"/><circle cx="917.1" cy="647.4" r="2.8"/><circle cx="933.9" cy="675.2" r="2.8"/><circle cx="950.6" cy="715.7" r="2.8"/><circle cx="967.3" cy="770.2" r="2.8"/><circle cx="984.1" cy="870.0" r="2.8"/><circle cx="1000.8" cy="815.0" r="2.8"/><circle cx="1017.5" cy="724.0" r="2.8"/><circle cx="1034.3" cy="686.3" r="2.8"/><circle cx="1051.0" cy="656.2" r="2.8"/><circle cx="1067.7" cy="633.8" r="2.8"/><circle cx="1084.5" cy="611.5" r="2.8"/><circle cx="1101.2" cy="593.4" r="2.8"/><circle cx="1118.0" cy="576.5" r="2.8"/><circle cx="1134.7" cy="561.2" r="2.8"/><circle cx="1151.4" cy="545.9" r="2.8"/><circle cx="1168.2" cy="531.1" r="2.8"/><circle cx="1184.9" cy="516.4" r="2.8"/><circle cx="1201.6" cy="501.7" r="2.8"/><circle cx="1218.4" cy="488.9" r="2.8"/><circle cx="1235.1" cy="475.3" r="2.8"/><circle cx="1251.8" cy="461.4" r="2.8"/><circle cx="1268.6" cy="449.2" r="2.8"/><circle cx="1285.3" cy="437.0" r="2.8"/><circle cx="1302.0" cy="425.2" r="2.8"/><circle cx="1318.8" cy="414.6" r="2.8"/><circle cx="1335.5" cy="404.6" r="2.8"/><circle cx="1352.2" cy="396.3" r="2.8"/><circle cx="1369.0" cy="387.8" r="2.8"/><circle cx="1385.7" cy="380.3" r="2.8"/><circle cx="1402.4" cy="374.0" r="2.8"/><circle cx="1419.2" cy="365.5" r="2.8"/><circle cx="1435.9" cy="356.5" r="2.8"/><circle cx="1452.7" cy="349.0" r="2.8"/><circle cx="1469.4" cy="340.5" r="2.8"/><circle cx="1486.1" cy="331.5" r="2.8"/><circle cx="1502.9" cy="322.5" r="2.8"/><circle cx="1519.6" cy="314.5" r="2.8"/><circle cx="1536.3" cy="306.5" r="2.8"/><circle cx="1553.1" cy="299.0" r="2.8"/><circle cx="1569.8" cy="291.5" r="2.8"/><circle cx="1586.5" cy="285.5" r="2.8"/><circle cx="1603.3" cy="280.5" r="2.8"/></g>
<path d="M266.0,285.0 L283.3,317.1 L300.0,333.8 L316.8,347.9 L333.5,359.7 L350.2,369.8 L367.0,378.9 L383.7,387.4 L400.4,394.2 L417.2,400.5 L433.9,406.6 L450.6,411.7 L467.4,416.2 L484.1,420.9 L500.9,425.6 L517.6,430.4 L534.3,435.1 L551.1,440.2 L567.8,445.9 L584.5,450.8 L601.3,457.5 L618.0,464.6 L634.7,471.8 L651.5,480.5 L668.2,489.1 L684.9,499.3 L701.7,509.5 L718.4,521.2 L735.1,532.4 L751.9,545.1 L768.6,557.9 L785.3,573.2 L802.1,587.4 L818.8,601.2 L835.6,620.0 L852.3,633.8 L869.0,647.5 L885.8,664.3 L902.5,687.5 L919.2,713.0 L936.0,745.1 L952.7,806.2 L969.4,947.5 L970.0,1000.0 L972.5,1040.0 L975.0,1080.0 L976.0,1116.0 L977.5,1060.0 L981.5,1015.0 L983.0,930.0 L986.2,853.0 L1002.9,791.7 L1019.6,732.9 L1036.4,698.4 L1053.1,668.3 L1069.8,648.0 L1086.6,627.6 L1103.3,608.5 L1120.0,592.2 L1136.8,575.9 L1153.5,559.2 L1170.3,544.3 L1187.0,528.1 L1203.7,513.2 L1220.5,500.2 L1237.2,488.4 L1253.9,477.2 L1270.7,465.6 L1287.4,453.8 L1304.1,442.6 L1320.9,432.4 L1337.6,421.0 L1354.3,410.9 L1371.1,401.4 L1387.8,391.1 L1404.5,382.4 L1421.3,373.2 L1438.0,363.6 L1454.8,355.8 L1471.5,346.6 L1488.2,337.2 L1505.0,328.0 L1521.7,319.7 L1538.4,311.4 L1555.2,303.5 L1571.9,296.2 L1588.6,289.5 L1605.4,283.7" fill="none" stroke="#8000FF" stroke-width="7.5" stroke-linejoin="round" stroke-linecap="round"/>
<g fill="#8000FF"><circle cx="283.3" cy="317.1" r="7.4"/><circle cx="300.0" cy="333.8" r="7.4"/><circle cx="316.8" cy="347.9" r="7.4"/><circle cx="333.5" cy="359.7" r="7.4"/><circle cx="350.2" cy="369.8" r="7.4"/><circle cx="367.0" cy="378.9" r="7.4"/><circle cx="383.7" cy="387.4" r="7.4"/><circle cx="400.4" cy="394.2" r="7.4"/><circle cx="417.2" cy="400.5" r="7.4"/><circle cx="433.9" cy="406.6" r="7.4"/><circle cx="450.6" cy="411.7" r="7.4"/><circle cx="467.4" cy="416.2" r="7.4"/><circle cx="484.1" cy="420.9" r="7.4"/><circle cx="500.9" cy="425.6" r="7.4"/><circle cx="517.6" cy="430.4" r="7.4"/><circle cx="534.3" cy="435.1" r="7.4"/><circle cx="551.1" cy="440.2" r="7.4"/><circle cx="567.8" cy="445.9" r="7.4"/><circle cx="584.5" cy="450.8" r="7.4"/><circle cx="601.3" cy="457.5" r="7.4"/><circle cx="618.0" cy="464.6" r="7.4"/><circle cx="634.7" cy="471.8" r="7.4"/><circle cx="651.5" cy="480.5" r="7.4"/><circle cx="668.2" cy="489.1" r="7.4"/><circle cx="684.9" cy="499.3" r="7.4"/><circle cx="701.7" cy="509.5" r="7.4"/><circle cx="718.4" cy="521.2" r="7.4"/><circle cx="735.1" cy="532.4" r="7.4"/><circle cx="751.9" cy="545.1" r="7.4"/><circle cx="768.6" cy="557.9" r="7.4"/><circle cx="785.3" cy="573.2" r="7.4"/><circle cx="802.1" cy="587.4" r="7.4"/><circle cx="818.8" cy="601.2" r="7.4"/><circle cx="835.6" cy="620.0" r="7.4"/><circle cx="852.3" cy="633.8" r="7.4"/><circle cx="869.0" cy="647.5" r="7.4"/><circle cx="885.8" cy="664.3" r="7.4"/><circle cx="902.5" cy="687.5" r="7.4"/><circle cx="919.2" cy="713.0" r="7.4"/><circle cx="936.0" cy="745.1" r="7.4"/><circle cx="952.7" cy="806.2" r="7.4"/><circle cx="969.4" cy="947.5" r="7.4"/><circle cx="986.2" cy="853.0" r="7.4"/><circle cx="1002.9" cy="791.7" r="7.4"/><circle cx="1019.6" cy="732.9" r="7.4"/><circle cx="1036.4" cy="698.4" r="7.4"/><circle cx="1053.1" cy="668.3" r="7.4"/><circle cx="1069.8" cy="648.0" r="7.4"/><circle cx="1086.6" cy="627.6" r="7.4"/><circle cx="1103.3" cy="608.5" r="7.4"/><circle cx="1120.0" cy="592.2" r="7.4"/><circle cx="1136.8" cy="575.9" r="7.4"/><circle cx="1153.5" cy="559.2" r="7.4"/><circle cx="1170.3" cy="544.3" r="7.4"/><circle cx="1187.0" cy="528.1" r="7.4"/><circle cx="1203.7" cy="513.2" r="7.4"/><circle cx="1220.5" cy="500.2" r="7.4"/><circle cx="1237.2" cy="488.4" r="7.4"/><circle cx="1253.9" cy="477.2" r="7.4"/><circle cx="1270.7" cy="465.6" r="7.4"/><circle cx="1287.4" cy="453.8" r="7.4"/><circle cx="1304.1" cy="442.6" r="7.4"/><circle cx="1320.9" cy="432.4" r="7.4"/><circle cx="1337.6" cy="421.0" r="7.4"/><circle cx="1354.3" cy="410.9" r="7.4"/><circle cx="1371.1" cy="401.4" r="7.4"/><circle cx="1387.8" cy="391.1" r="7.4"/><circle cx="1404.5" cy="382.4" r="7.4"/><circle cx="1421.3" cy="373.2" r="7.4"/><circle cx="1438.0" cy="363.6" r="7.4"/><circle cx="1454.8" cy="355.8" r="7.4"/><circle cx="1471.5" cy="346.6" r="7.4"/><circle cx="1488.2" cy="337.2" r="7.4"/><circle cx="1505.0" cy="328.0" r="7.4"/><circle cx="1521.7" cy="319.7" r="7.4"/><circle cx="1538.4" cy="311.4" r="7.4"/><circle cx="1555.2" cy="303.5" r="7.4"/><circle cx="1571.9" cy="296.2" r="7.4"/><circle cx="1588.6" cy="289.5" r="7.4"/><circle cx="1605.4" cy="283.7" r="7.4"/></g>
<g fill="#dcbcff"><circle cx="281.2" cy="314.6" r="2.8"/><circle cx="297.9" cy="331.3" r="2.8"/><circle cx="314.7" cy="345.4" r="2.8"/><circle cx="331.4" cy="357.2" r="2.8"/><circle cx="348.1" cy="367.3" r="2.8"/><circle cx="364.9" cy="376.4" r="2.8"/><circle cx="381.6" cy="384.9" r="2.8"/><circle cx="398.3" cy="391.7" r="2.8"/><circle cx="415.1" cy="398.0" r="2.8"/><circle cx="431.8" cy="404.1" r="2.8"/><circle cx="448.5" cy="409.2" r="2.8"/><circle cx="465.3" cy="413.7" r="2.8"/><circle cx="482.0" cy="418.4" r="2.8"/><circle cx="498.8" cy="423.1" r="2.8"/><circle cx="515.5" cy="427.9" r="2.8"/><circle cx="532.2" cy="432.6" r="2.8"/><circle cx="549.0" cy="437.7" r="2.8"/><circle cx="565.7" cy="443.4" r="2.8"/><circle cx="582.4" cy="448.3" r="2.8"/><circle cx="599.2" cy="455.0" r="2.8"/><circle cx="615.9" cy="462.1" r="2.8"/><circle cx="632.6" cy="469.3" r="2.8"/><circle cx="649.4" cy="478.0" r="2.8"/><circle cx="666.1" cy="486.6" r="2.8"/><circle cx="682.8" cy="496.8" r="2.8"/><circle cx="699.6" cy="507.0" r="2.8"/><circle cx="716.3" cy="518.7" r="2.8"/><circle cx="733.0" cy="529.9" r="2.8"/><circle cx="749.8" cy="542.6" r="2.8"/><circle cx="766.5" cy="555.4" r="2.8"/><circle cx="783.2" cy="570.7" r="2.8"/><circle cx="800.0" cy="584.9" r="2.8"/><circle cx="816.7" cy="598.7" r="2.8"/><circle cx="833.5" cy="617.5" r="2.8"/><circle cx="850.2" cy="631.3" r="2.8"/><circle cx="866.9" cy="645.0" r="2.8"/><circle cx="883.7" cy="661.8" r="2.8"/><circle cx="900.4" cy="685.0" r="2.8"/><circle cx="917.1" cy="710.5" r="2.8"/><circle cx="933.9" cy="742.6" r="2.8"/><circle cx="950.6" cy="803.7" r="2.8"/><circle cx="967.3" cy="945.0" r="2.8"/><circle cx="984.1" cy="850.5" r="2.8"/><circle cx="1000.8" cy="789.2" r="2.8"/><circle cx="1017.5" cy="730.4" r="2.8"/><circle cx="1034.3" cy="695.9" r="2.8"/><circle cx="1051.0" cy="665.8" r="2.8"/><circle cx="1067.7" cy="645.5" r="2.8"/><circle cx="1084.5" cy="625.1" r="2.8"/><circle cx="1101.2" cy="606.0" r="2.8"/><circle cx="1118.0" cy="589.7" r="2.8"/><circle cx="1134.7" cy="573.4" r="2.8"/><circle cx="1151.4" cy="556.7" r="2.8"/><circle cx="1168.2" cy="541.8" r="2.8"/><circle cx="1184.9" cy="525.6" r="2.8"/><circle cx="1201.6" cy="510.7" r="2.8"/><circle cx="1218.4" cy="497.7" r="2.8"/><circle cx="1235.1" cy="485.9" r="2.8"/><circle cx="1251.8" cy="474.7" r="2.8"/><circle cx="1268.6" cy="463.1" r="2.8"/><circle cx="1285.3" cy="451.3" r="2.8"/><circle cx="1302.0" cy="440.1" r="2.8"/><circle cx="1318.8" cy="429.9" r="2.8"/><circle cx="1335.5" cy="418.5" r="2.8"/><circle cx="1352.2" cy="408.4" r="2.8"/><circle cx="1369.0" cy="398.9" r="2.8"/><circle cx="1385.7" cy="388.6" r="2.8"/><circle cx="1402.4" cy="379.9" r="2.8"/><circle cx="1419.2" cy="370.7" r="2.8"/><circle cx="1435.9" cy="361.1" r="2.8"/><circle cx="1452.7" cy="353.3" r="2.8"/><circle cx="1469.4" cy="344.1" r="2.8"/><circle cx="1486.1" cy="334.7" r="2.8"/><circle cx="1502.9" cy="325.5" r="2.8"/><circle cx="1519.6" cy="317.2" r="2.8"/><circle cx="1536.3" cy="308.9" r="2.8"/><circle cx="1553.1" cy="301.0" r="2.8"/><circle cx="1569.8" cy="293.7" r="2.8"/><circle cx="1586.5" cy="287.0" r="2.8"/><circle cx="1603.3" cy="281.2" r="2.8"/></g>
</g>
<rect x="305.6" y="615.75" width="185.7" height="5.3" fill="#000000"/>
<circle cx="398.4" cy="618.4" r="8.2" fill="#000000"/>
<circle cx="395.7" cy="615.5" r="2.7" fill="#b4b4b4"/>
<text x="509" y="645.7" font-size="82">Blank</text>
<rect x="305.6" y="713.60" width="185.7" height="8" fill="#00A0FF"/>
<circle cx="398.4" cy="717.6" r="8.2" fill="#00A0FF"/>
<circle cx="395.7" cy="714.7" r="2.7" fill="#c0e6ff"/>
<text x="509" y="744.9" font-size="82">50 mg/L</text>
<rect x="305.6" y="812.80" width="185.7" height="8" fill="#FF0080"/>
<circle cx="398.4" cy="816.8" r="8.2" fill="#FF0080"/>
<circle cx="395.7" cy="813.9" r="2.7" fill="#ffbade"/>
<text x="509" y="844.1" font-size="82">100 mg/L</text>
<rect x="305.6" y="912.00" width="185.7" height="8" fill="#FF8000"/>
<circle cx="398.4" cy="916.0" r="8.2" fill="#FF8000"/>
<circle cx="395.7" cy="913.1" r="2.7" fill="#ffd8b0"/>
<text x="509" y="943.3" font-size="82">150 mg/L</text>
<rect x="305.6" y="1011.20" width="185.7" height="8" fill="#8000FF"/>
<circle cx="398.4" cy="1015.2" r="8.2" fill="#8000FF"/>
<circle cx="395.7" cy="1012.3" r="2.7" fill="#dcbcff"/>
<text x="509" y="1042.5" font-size="82">200 mg/L</text>
</svg></body></html>
